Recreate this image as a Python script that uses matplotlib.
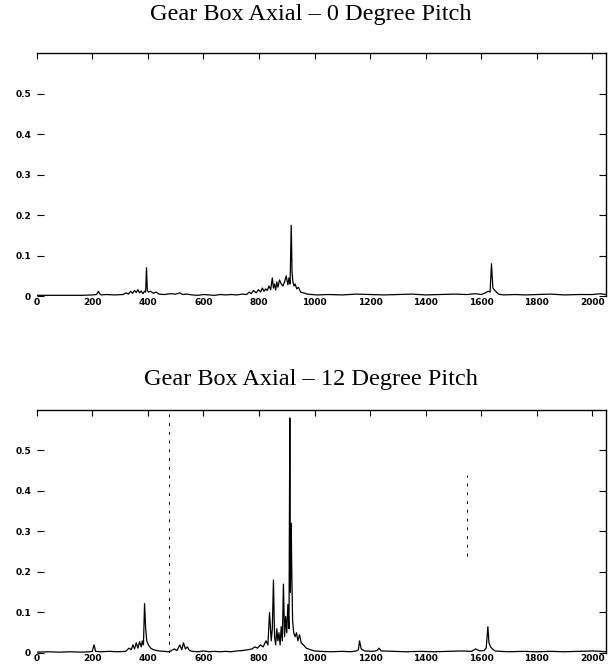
import matplotlib.pyplot as plt

# frequency / amplitude (sparse points along each trace)
freq_0 = [0, 40, 80, 120, 160, 200, 215, 222, 226, 232, 250, 280, 310, 322, 330,
          338, 345, 352, 358, 364, 370, 376, 382, 388, 392, 395, 398, 402, 410,
          420, 430, 440, 460, 480, 500, 515, 525, 540, 560, 580, 600, 620, 640,
          660, 680, 700, 720, 740, 755, 765, 772, 780, 790, 798, 806, 812, 818,
          824, 830, 836, 842, 848, 852, 856, 860, 864, 868, 874, 880, 886, 892,
          898, 904, 908, 912, 916, 919, 922, 926, 930, 936, 942, 950, 960, 975,
          990, 1010, 1050, 1100, 1150, 1200, 1250, 1300, 1350, 1400, 1450, 1500,
          1550, 1580, 1600, 1615, 1625, 1632, 1637, 1642, 1648, 1655, 1662, 1680,
          1720, 1760, 1800, 1850, 1900, 1950, 2000, 2030, 2048]
amp_0 = [0.002, 0.002, 0.002, 0.002, 0.002, 0.003, 0.004, 0.012, 0.006, 0.003,
         0.004, 0.003, 0.004, 0.008, 0.005, 0.012, 0.007, 0.014, 0.009, 0.016,
         0.008, 0.013, 0.006, 0.012, 0.010, 0.070, 0.015, 0.010, 0.012, 0.007,
         0.010, 0.005, 0.004, 0.006, 0.005, 0.008, 0.004, 0.005, 0.003, 0.002,
         0.004, 0.003, 0.002, 0.004, 0.003, 0.004, 0.003, 0.005, 0.004, 0.010,
         0.006, 0.014, 0.008, 0.016, 0.010, 0.020, 0.012, 0.018, 0.014, 0.025,
         0.016, 0.045, 0.020, 0.030, 0.015, 0.035, 0.022, 0.040, 0.030, 0.025,
         0.035, 0.050, 0.028, 0.045, 0.030, 0.175, 0.060, 0.035, 0.025, 0.030,
         0.018, 0.022, 0.010, 0.008, 0.005, 0.004, 0.003, 0.004, 0.003, 0.005,
         0.004, 0.003, 0.004, 0.005, 0.003, 0.004, 0.005, 0.004, 0.006, 0.004,
         0.008, 0.012, 0.010, 0.080, 0.020, 0.015, 0.010, 0.005, 0.003, 0.004,
         0.003, 0.004, 0.005, 0.003, 0.004, 0.004, 0.006, 0.004]

freq_12 = [0, 40, 80, 120, 160, 190, 200, 206, 212, 230, 260, 290, 320, 332, 340,
           346, 352, 358, 364, 370, 376, 380, 384, 388, 392, 396, 402, 410, 420,
           440, 460, 472, 480, 495, 505, 515, 522, 528, 535, 542, 550, 560, 580,
           600, 620, 640, 660, 680, 700, 720, 740, 760, 775, 785, 795, 805, 815,
           825, 832, 838, 844, 848, 852, 856, 860, 864, 868, 872, 876, 880, 884,
           888, 892, 896, 900, 904, 908, 911, 913, 916, 918, 921, 925, 930, 935,
           940, 946, 952, 960, 970, 985, 1000, 1020, 1060, 1100, 1130, 1150, 1158,
           1162, 1168, 1180, 1210, 1225, 1232, 1240, 1280, 1330, 1380, 1430, 1480,
           1530, 1565, 1580, 1595, 1610, 1618, 1624, 1628, 1634, 1640, 1650, 1670,
           1700, 1750, 1800, 1850, 1900, 1950, 2000, 2030, 2048]
amp_12 = [0.002, 0.003, 0.002, 0.003, 0.002, 0.003, 0.004, 0.020, 0.004, 0.003,
          0.004, 0.003, 0.004, 0.012, 0.008, 0.020, 0.010, 0.025, 0.012, 0.028,
          0.015, 0.030, 0.020, 0.122, 0.060, 0.030, 0.020, 0.012, 0.008, 0.005,
          0.004, 0.003, 0.004, 0.010, 0.006, 0.020, 0.008, 0.025, 0.010, 0.015,
          0.006, 0.004, 0.003, 0.005, 0.003, 0.004, 0.003, 0.004, 0.003, 0.005,
          0.006, 0.008, 0.010, 0.015, 0.012, 0.020, 0.015, 0.030, 0.020, 0.100,
          0.030, 0.060, 0.180, 0.040, 0.020, 0.060, 0.030, 0.050, 0.020, 0.065,
          0.030, 0.170, 0.040, 0.090, 0.050, 0.120, 0.060, 0.580, 0.150, 0.320,
          0.200, 0.080, 0.050, 0.040, 0.050, 0.030, 0.045, 0.025, 0.020, 0.012,
          0.008, 0.005, 0.004, 0.003, 0.004, 0.003, 0.005, 0.008, 0.030, 0.010,
          0.005, 0.004, 0.006, 0.012, 0.005, 0.004, 0.003, 0.004, 0.003, 0.004,
          0.005, 0.004, 0.010, 0.005, 0.006, 0.012, 0.065, 0.025, 0.015, 0.010,
          0.005, 0.004, 0.003, 0.004, 0.003, 0.004, 0.003, 0.004, 0.005, 0.004,
          0.003]

# faint dashed vertical traces seen in the 12 degree scan
dash_x = [475, 1548]
dash_lo = [0.0, 0.24]
dash_hi = [0.60, 0.44]

titles = ["Gear Box Axial \u2013 0 Degree Pitch", "Gear Box Axial \u2013 12 Degree Pitch"]
xticks = [0, 200, 400, 600, 800, 1000, 1200, 1400, 1600, 1800, 2000]
yticks = [0, 0.1, 0.2, 0.3, 0.4, 0.5]

fig = plt.figure(figsize=(6.13, 6.64), dpi=100)
ax_top = fig.add_axes([0.060, 0.554, 0.928, 0.366])
ax_bot = fig.add_axes([0.060, 0.0166, 0.928, 0.366])

for ax, f, a, t, pad in [(ax_top, freq_0, amp_0, titles[0], 24),
                         (ax_bot, freq_12, amp_12, titles[1], 18)]:
    ax.plot(f, a, color="black", lw=0.9)
    ax.set_xlim(0, 2048)
    ax.set_ylim(0, 0.6)
    ax.set_xticks(xticks)
    ax.set_yticks(yticks)
    ax.set_yticklabels(["0", "0.1", "0.2", "0.3", "0.4", "0.5"])
    ax.spines["left"].set_visible(False)
    ax.spines["bottom"].set_visible(False)
    ax.spines["top"].set_linewidth(1.0)
    ax.spines["right"].set_linewidth(1.0)
    ax.tick_params(axis="x", direction="in", length=4, top=True, bottom=False,
                   labelsize=6.5, pad=1)
    ax.tick_params(axis="y", direction="in", length=5, right=True, left=True,
                   labelsize=6.5, pad=4)
    for lab in ax.get_xticklabels() + ax.get_yticklabels():
        lab.set_fontweight("bold")
    ax.set_title(t, family="Liberation Serif", fontsize=17.5, pad=pad, x=0.482)

for x, lo, hi in zip(dash_x, dash_lo, dash_hi):
    ax_bot.plot([x, x], [lo, hi], color="black", lw=0.7, ls=(0, (3, 6)))

fig.savefig("out.png", dpi=100)
